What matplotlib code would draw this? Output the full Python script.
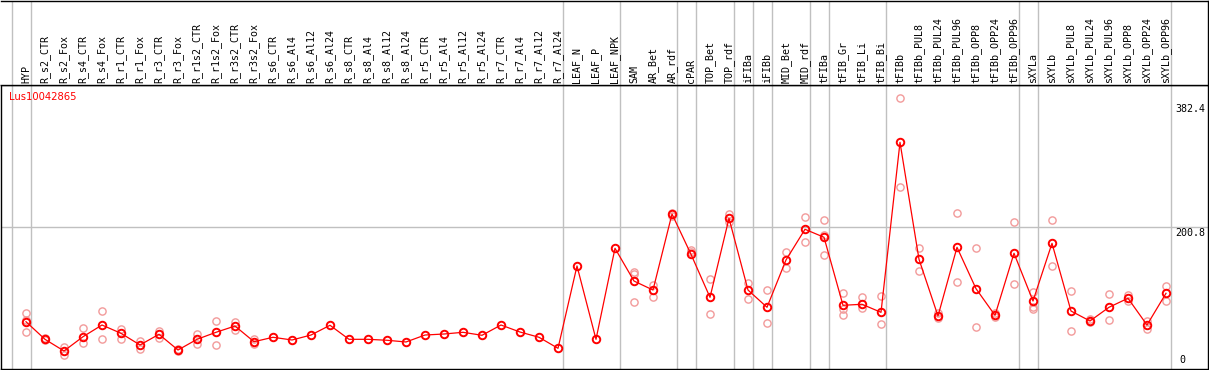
import matplotlib
matplotlib.use("Agg")
import matplotlib.pyplot as plt

# ─── Data ────────────────────────────────────────────────────────────────────

GENE = "Lus10042865"

samples = [
    "HYP",
    "R_s2_CTR", "R_s2_Fox", "R_s4_CTR", "R_s4_Fox", "R_r1_CTR", "R_r1_Fox",
    "R_r3_CTR", "R_r3_Fox", "R_r1s2_CTR", "R_r1s2_Fox", "R_r3s2_CTR", "R_r3s2_Fox",
    "R_s6_CTR", "R_s6_Al4", "R_s6_Al12", "R_s6_Al24",
    "R_s8_CTR", "R_s8_Al4", "R_s8_Al12", "R_s8_Al24",
    "R_r5_CTR", "R_r5_Al4", "R_r5_Al12", "R_r5_Al24",
    "R_r7_CTR", "R_r7_Al4", "R_r7_Al12", "R_r7_Al24",
    "LEAF_N", "LEAF_P", "LEAF_NPK",
    "SAM", "AR_Bet", "AR_rdf",
    "cPAR",
    "TOP_Bet", "TOP_rdf",
    "iFIBa",
    "iFIBb",
    "MID_Bet", "MID_rdf",
    "tFIBa",
    "tFIB_Gr", "tFIB_Li", "tFIB_Bi",
    "tFIBb", "tFIBb_PUL8", "tFIBb_PUL24", "tFIBb_PUL96",
    "tFIBb_OPP8", "tFIBb_OPP24", "tFIBb_OPP96",
    "sXYLa",
    "sXYLb", "sXYLb_PUL8", "sXYLb_PUL24", "sXYLb_PUL96",
    "sXYLb_OPP8", "sXYLb_OPP24", "sXYLb_OPP96",
]

# number of samples in each tissue group (separators drawn after each group)
group_sizes = [1, 28, 3, 3, 1, 2, 1, 1, 2, 1, 3, 7, 1, 7]

means = [
    62.3,
    36.5, 19.4, 40.3, 57.5, 45.3, 28.2, 43.9, 20.8, 36.5, 46.8, 56.0, 33.0,
    39.5, 35.5, 42.8, 57.1,
    36.5, 36.5, 35.1, 32.6,
    42.8, 44.3, 46.8, 42.4,
    57.5, 47.2, 39.5, 23.3,
    144.1, 36.5, 170.0,
    122.0, 108.8, 220.3,
    161.2,
    98.1, 214.0,
    108.8,
    83.5,
    152.9, 197.9,
    186.2,
    86.4, 87.9, 76.1,
    325.5, 153.9, 70.7, 171.5,
    110.8, 71.7, 162.7,
    92.7,
    177.3, 78.0, 63.4, 83.5,
    96.7, 57.5, 104.0,
]

replicates = [
    [74.7, 64.8, 47.7],
    [35.0, 38.0], [25.7, 13.5], [52.7, 30.7], [78.5, 36.5], [51.6, 36.5], [34.0, 22.3],
    [48.7, 38.4], [19.0, 23.0], [44.3, 29.6], [63.8, 27.7], [61.9, 50.2], [37.0, 29.6],
    [], [], [], [],
    [], [], [], [],
    [], [], [], [],
    [], [], [], [],
    [], [], [],
    [135.7, 132.3, 91.7], [116.2, 99.0], [222.0, 218.0],
    [167.5, 164.0],
    [124.5, 73.2], [219.9, 209.0],
    [119.6, 96.1],
    [108.8, 60.0],
    [164.6, 140.7], [215.5, 178.8],
    [211.5, 189.5, 159.7],
    [104.0, 80.5, 71.7], [98.6, 82.4], [100.0, 58.5],
    [390.0, 259.5], [170.0, 136.7], [75.1, 67.8], [221.4, 120.1],
    [170.0, 54.1], [75.1, 69.2], [208.2, 117.2],
    [105.8, 84.3, 81.4],
    [211.1, 144.1], [107.4, 48.3], [66.7, 61.5], [103.0, 64.8],
    [102.0, 93.1], [63.4, 51.2], [114.7, 92.7],
]

y_ticks = [0, 200.8, 382.4]

# ─── Layout (pixels) ─────────────────────────────────────────────────────────

W, H = 1209, 370
DPI = 100
HEADER_BOTTOM = 85      # y of the black line under the labels
PLOT_BOTTOM = 368.5
X0, DX = 26.0, 19.0      # centre of first column, column pitch
Y0, KY = 364.2, 0.6817   # pixel of value 0, pixels per unit

GRID = "#c0c0c0"
RED = "#ff0000"
REP = "#f29a9a"


def fx(px):
    return px / W


def fy(py):
    return 1 - py / H


fig = plt.figure(figsize=(W / DPI, H / DPI), dpi=DPI)
fig.patch.set_facecolor("white")

# x limits in column-index units so that the whole width is shared
xl = ((0.5 - X0) / DX, (1207.7 - X0) / DX)

# ─── Plot area ───────────────────────────────────────────────────────────────

ax = fig.add_axes([fx(0.5), fy(PLOT_BOTTOM), fx(1207.7 - 0.5), (PLOT_BOTTOM - HEADER_BOTTOM) / H])
ax.set_xlim(*xl)
ax.set_ylim((Y0 - PLOT_BOTTOM) / KY, (Y0 - HEADER_BOTTOM) / KY)
ax.set_xticks([])
ax.set_yticks([])
for s in ax.spines.values():
    s.set_color("black")
    s.set_linewidth(1.0)

# header axes
hx = fig.add_axes([fx(0.5), fy(HEADER_BOTTOM), fx(1207.7 - 0.5), (HEADER_BOTTOM - 0.5) / H])
hx.set_xlim(*xl)
hx.set_ylim(0, 1)
hx.set_xticks([])
hx.set_yticks([])
for s in hx.spines.values():
    s.set_color("black")
    s.set_linewidth(1.0)
hx.spines["left"].set_visible(False)

# group separators
seps = [-1]
pos = -1
for g in group_sizes:
    pos += g
    seps.append(pos)
for s in seps:
    for a in (ax, hx):
        a.axvline(s + 0.25, color=GRID, linewidth=1.0, zorder=1)

# horizontal grid line at middle tick
ax.axhline(y_ticks[1], color=GRID, linewidth=1.0, zorder=1)

xs = list(range(len(samples)))

# replicate circles
for i, reps in enumerate(replicates):
    if reps:
        ax.plot([i] * len(reps), reps, "o", linestyle="none",
                markerfacecolor="none", markeredgecolor=REP,
                markersize=5.2, markeredgewidth=1.0, zorder=2)

# mean line + markers
ax.plot(xs, means, "-", color=RED, linewidth=0.9, zorder=3)
ax.plot(xs, means, "o", linestyle="none", markerfacecolor="none",
        markeredgecolor=RED, markersize=5.4, markeredgewidth=1.4, zorder=4)

# sample labels
for i, name in enumerate(samples):
    hx.text(i, (HEADER_BOTTOM - 83) / (HEADER_BOTTOM - 0.5), name, rotation=90,
            ha="center", va="bottom", fontsize=7.2, family="DejaVu Sans Mono",
            color="black")

# gene name
fig.text(fx(9), fy(97), GENE, color=RED, fontsize=7.2, family="DejaVu Sans",
         ha="left", va="center")

# y labels on the right
fig.text(fx(1175), fy(Y0 - KY * y_ticks[2]), f"{y_ticks[2]:g}", fontsize=7.2,
         family="DejaVu Sans Mono", ha="left", va="top")
fig.text(fx(1175), fy(Y0 - KY * y_ticks[1] + 0.5), f"{y_ticks[1]:g}", fontsize=7.2,
         family="DejaVu Sans Mono", ha="left", va="top")
fig.text(fx(1179), fy(365), f"{y_ticks[0]:g}", fontsize=7.2,
         family="DejaVu Sans Mono", ha="left", va="bottom")

fig.savefig("out.png", dpi=DPI, facecolor="white")
